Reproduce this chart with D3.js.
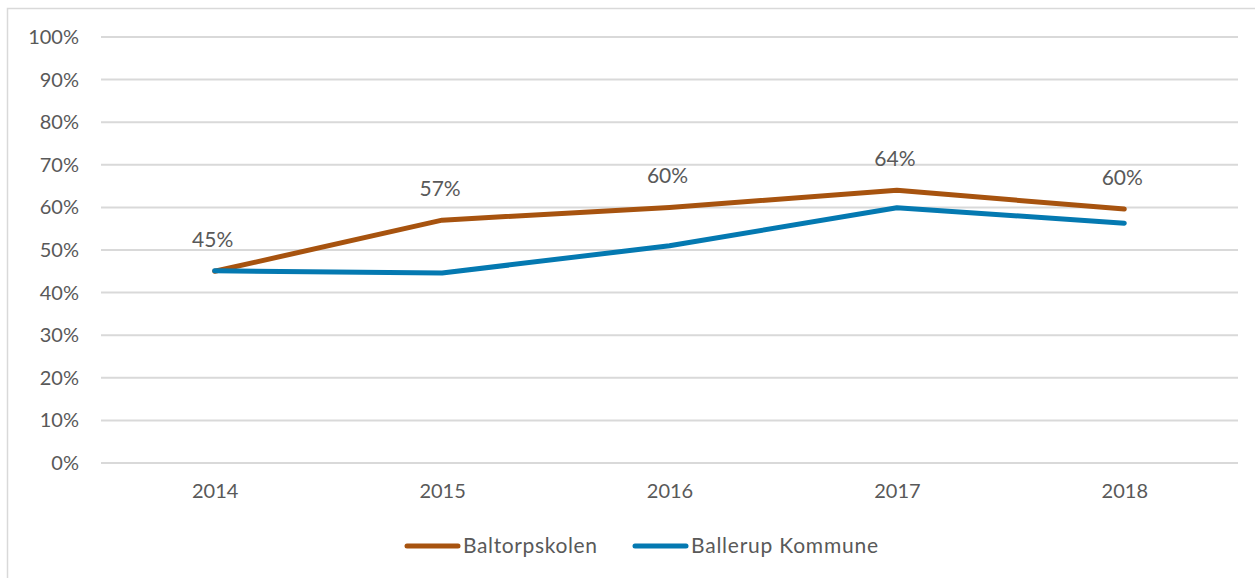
<!DOCTYPE html>
<html>
<head>
<meta charset="utf-8">
<script src="https://cdn.jsdelivr.net/npm/d3@7"></script>
<style>
  html, body { margin: 0; padding: 0; background: #fff; }
  svg { display: block; font-family: Lato, "Open Sans", sans-serif; }
</style>
</head>
<body>
<svg id="chart" width="1255" height="578"></svg>
<script>
// Years on the x axis
const years = ["2014", "2015", "2016", "2017", "2018"];
// Share per year, for the school and for the municipality
const baltorpskolen = [0.45, 0.57, 0.60, 0.64, 0.596];
const ballerupKommune = [0.451, 0.446, 0.51, 0.599, 0.563];
// Y axis ticks
const yTicks = [0, 0.1, 0.2, 0.3, 0.4, 0.5, 0.6, 0.7, 0.8, 0.9, 1.0];

const series = [
  { name: "Baltorpskolen", values: baltorpskolen, color: "#A7530F", labels: true },
  { name: "Ballerup Kommune", values: ballerupKommune, color: "#0479B1", labels: false }
];

const svg = d3.select("#chart");
const textColor = "#595959";
const gridColor = "#D9D9D9";

// Chart frame
svg.append("rect")
  .attr("x", 7.5).attr("y", 8.5)
  .attr("width", 1300).attr("height", 700)
  .attr("fill", "none").attr("stroke", gridColor).attr("stroke-width", 1.5);

const plot = { left: 101, right: 1238, top: 37, bottom: 463 };

const x = d3.scalePoint().domain(years).range([plot.left, plot.right]).padding(0.5);
const y = d3.scaleLinear().domain([0, 1]).range([plot.bottom, plot.top]);
const pct = d3.format(".0%");

// Gridlines
svg.append("g")
  .selectAll("line")
  .data(yTicks)
  .join("line")
  .attr("x1", plot.left).attr("x2", plot.right)
  .attr("y1", d => y(d)).attr("y2", d => y(d))
  .attr("stroke", gridColor).attr("stroke-width", 2);

// Y axis labels
const yAxis = d3.axisLeft(y).tickValues(yTicks).tickFormat(pct).tickSize(0).tickPadding(22);
const gy = svg.append("g").attr("transform", `translate(${plot.left},0)`).call(yAxis);
gy.select(".domain").remove();
gy.selectAll("text").attr("fill", textColor).style("font-size", "20px").style("font-family", "Lato, sans-serif");

// X axis labels
const xAxis = d3.axisBottom(x).tickSize(0).tickPadding(21);
const gx = svg.append("g").attr("transform", `translate(0,${plot.bottom})`).call(xAxis);
gx.select(".domain").remove();
gx.selectAll("text").attr("fill", textColor).style("font-size", "20px").style("font-family", "Lato, sans-serif");

// Lines
const line = d3.line().x((d, i) => x(years[i])).y(d => y(d));
svg.append("g")
  .selectAll("path")
  .data(series)
  .join("path")
  .attr("d", d => line(d.values))
  .attr("fill", "none")
  .attr("stroke", d => d.color)
  .attr("stroke-width", 5)
  .attr("stroke-linejoin", "round")
  .attr("stroke-linecap", "round");

// Value labels above the school series
series.filter(s => s.labels).forEach(s => {
  svg.append("g")
    .selectAll("text")
    .data(s.values)
    .join("text")
    .attr("x", (d, i) => x(years[i]) - 2)
    .attr("y", d => y(d) - 24)
    .attr("text-anchor", "middle")
    .attr("fill", textColor)
    .style("font-size", "21px")
    .text(d => pct(d));
});

// Legend
const legend = svg.append("g").attr("transform", "translate(0,546)");
const legendItems = [
  { s: series[0], x: 405 },
  { s: series[1], x: 633 }
];
legendItems.forEach(item => {
  legend.append("line")
    .attr("x1", item.x + 2).attr("x2", item.x + 53)
    .attr("y1", 0).attr("y2", 0)
    .attr("stroke", item.s.color).attr("stroke-width", 5)
    .attr("stroke-linecap", "round");
  legend.append("text")
    .attr("x", item.x + 58).attr("y", 0)
    .attr("dy", "0.35em")
    .attr("fill", textColor)
    .style("font-size", "21px")
    .attr("textLength", item.s.name === "Baltorpskolen" ? 134 : 187)
    .text(item.s.name);
});
</script>
</body>
</html>
